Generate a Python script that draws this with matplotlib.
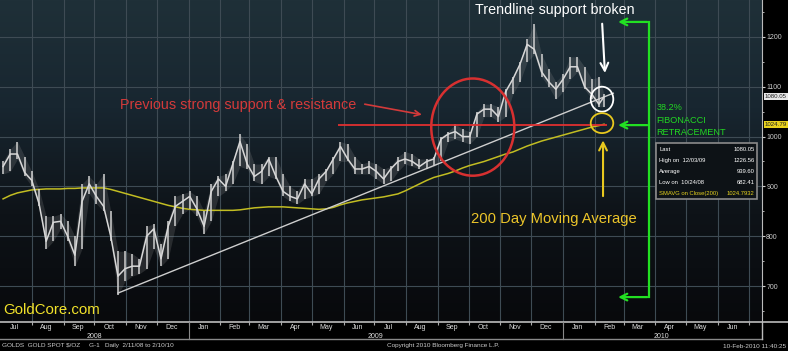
import matplotlib
matplotlib.use("Agg")
import matplotlib.pyplot as plt
import matplotlib.dates as mdates
from matplotlib.patches import Ellipse, Rectangle
from matplotlib.colors import LinearSegmentedColormap
import matplotlib.transforms as mtransforms
import numpy as np
import pandas as pd

plt.rcParams['font.family'] = ['Liberation Sans', 'DejaVu Sans']

# weekly gold spot bars (USD/oz), Fridays from 4 Jul 2008, last bar 10 Feb 2010
week_close = [940, 965, 965, 928, 912, 866, 790, 828, 830, 800, 762, 870, 905, 880, 860,
              800, 720, 735, 740, 740, 800, 815, 755, 820, 860, 870, 880, 855, 820, 890,
              915, 900, 945, 990, 945, 920, 930, 955, 920, 890, 880, 875, 905, 885, 915,
              930, 955, 980, 955, 935, 935, 940, 930, 915, 935, 950, 955, 950, 940, 950,
              955, 995, 1005, 1010, 1000, 1000, 1045, 1055, 1055, 1040, 1090, 1115, 1145, 1185,
              1175, 1130, 1110, 1095, 1115, 1140, 1140, 1100, 1085, 1065, 1080.05]
week_high = [950, 975, 990, 960, 930, 895, 840, 840, 845, 830, 800, 905, 920, 905, 925,
             850, 770, 770, 765, 755, 820, 825, 785, 830, 880, 885, 890, 880, 850, 905,
             920, 925, 950, 1005, 985, 945, 945, 960, 960, 925, 900, 890, 915, 915, 925,
             935, 960, 990, 985, 960, 945, 950, 945, 935, 940, 960, 970, 965, 955, 955,
             960, 1000, 1010, 1025, 1015, 1010, 1050, 1065, 1065, 1060, 1095, 1120, 1150, 1195,
             1226, 1165, 1135, 1110, 1125, 1160, 1160, 1140, 1115, 1120, 1085]
week_low = [925, 930, 955, 920, 900, 860, 775, 790, 815, 790, 740, 775, 885, 865, 850,
            790, 682, 710, 720, 725, 735, 775, 740, 755, 820, 845, 855, 840, 805, 830,
            880, 890, 905, 940, 935, 910, 905, 920, 915, 880, 870, 865, 875, 880, 885,
            910, 925, 950, 950, 925, 925, 925, 915, 905, 910, 930, 945, 940, 935, 935,
            940, 950, 990, 995, 990, 985, 1000, 1040, 1040, 1030, 1040, 1085, 1110, 1150,
            1165, 1120, 1100, 1075, 1090, 1115, 1130, 1095, 1075, 1060, 1060]
# 200 day simple moving average at the same dates
sma200 = [875, 882, 887, 890, 893, 894, 895, 895, 895, 896, 896, 897, 897, 897, 897,
          894, 890, 886, 882, 878, 874, 870, 866, 862, 859, 856, 854, 853, 852, 852,
          852, 852, 852, 853, 855, 857, 858, 859, 859, 859, 858, 857, 856, 855, 854,
          855, 858, 863, 867, 870, 873, 875, 877, 879, 882, 885, 891, 898, 905, 912,
          918, 922, 926, 931, 937, 942, 946, 950, 955, 960, 965, 969, 975, 981,
          986, 991, 995, 999, 1003, 1007, 1011, 1015, 1019, 1022, 1024.79]

dates = list(pd.date_range('2008-07-04', periods=84, freq='7D')) + [pd.Timestamp('2010-02-10')]
trend_dates = [pd.Timestamp('2008-10-24'), pd.Timestamp('2010-02-19')]
trend_vals = [686, 1087]
support_level = 1024
stats_labels = ['Last', 'High on  12/03/09', 'Average', 'Low on  10/24/08', 'SMAVG on Close(200)']
stats_values = ['1080.05', '1226.56', '939.60', '682.41', '1024.7932']
months = ['Jul', 'Aug', 'Sep', 'Oct', 'Nov', 'Dec', 'Jan', 'Feb', 'Mar', 'Apr', 'May', 'Jun']

fig = plt.figure(figsize=(7.88, 3.51), dpi=100, facecolor='black')
ax = fig.add_axes([0, 29 / 351, 762 / 788, 322 / 351])

d = mdates.date2num
x0, x1 = d(pd.Timestamp('2008-07-01')), d(pd.Timestamp('2010-07-14'))
ax.set_xlim(x0, x1)
ax.set_ylim(628, 1274)

# background gradient
cmap = LinearSegmentedColormap.from_list('bg', ['#08090c', '#0e1318', '#182630', '#1f3038'])
grad = np.linspace(0, 1, 256).reshape(-1, 1)
ax.imshow(grad, extent=[0, 1, 0, 1], transform=ax.transAxes, aspect='auto',
          cmap=cmap, origin='lower', zorder=0)

# grid
month_starts = pd.date_range('2008-08-01', '2010-07-01', freq='MS')
for m in month_starts:
    ax.axvline(d(m), color='#3e4b54', lw=0.8, zorder=1)
for lvl in [700, 800, 900, 1000, 1100, 1200]:
    ax.axhline(lvl, color='#3e4b54', lw=0.8, zorder=1)

# price bars
dn = d(pd.DatetimeIndex(dates))
ax.fill_between(dn, week_low, week_high, color='#9a9a9a', alpha=0.2, lw=0, zorder=3)
ax.vlines(dn, week_low, week_high, color='#d0d0d0', lw=1.1, zorder=4)
ax.plot(dn, week_close, color='#d8d8d8', lw=1.1, zorder=4)

# moving average and trendline
ax.plot(dn, sma200, color='#c2bd22', lw=1.1, zorder=3)
ax.plot(d(pd.DatetimeIndex(trend_dates)), trend_vals, color='#cfcfcf', lw=1.0, zorder=3)

# support line and annotations
ax.hlines(support_level, d(pd.Timestamp('2009-05-27')), d(pd.Timestamp('2010-02-13')),
          color='#e03030', lw=1.3, zorder=6)
ax.text(d(pd.Timestamp('2008-10-26')), 1063, 'Previous strong support & resistance',
        color='#d33a3a', fontsize=10.4, va='center', zorder=7)
ax.annotate('', xy=(d(pd.Timestamp('2009-08-19')), 1043), xytext=(d(pd.Timestamp('2009-06-19')), 1066),
            arrowprops=dict(arrowstyle='->', color='#d33a3a', lw=1.2), zorder=7)
ax.add_patch(Ellipse((d(pd.Timestamp('2009-10-05')), 1019), 81, 195, fill=False,
                     ec='#d83030', lw=1.8, zorder=7))

ax.text(d(pd.Timestamp('2009-10-07')), 1254, 'Trendline support broken', color='white',
        fontsize=10.3, va='center', zorder=7)
ax.annotate('', xy=(d(pd.Timestamp('2010-02-11')), 1122), xytext=(d(pd.Timestamp('2010-02-08')), 1232),
            arrowprops=dict(arrowstyle='->', color='white', lw=1.5, mutation_scale=14), zorder=7)
ax.add_patch(Ellipse((d(pd.Timestamp('2010-02-08')), 1075), 22, 50, fill=False,
                     ec='white', lw=1.3, zorder=7))
ax.add_patch(Ellipse((d(pd.Timestamp('2010-02-08')), 1027), 22, 40, fill=False,
                     ec='#e8c81e', lw=1.3, zorder=7))
ax.annotate('', xy=(d(pd.Timestamp('2010-02-09')), 998), xytext=(d(pd.Timestamp('2010-02-09')), 875),
            arrowprops=dict(arrowstyle='->', color='#e8c81e', lw=1.5, mutation_scale=14), zorder=7)
ax.text(d(pd.Timestamp('2009-10-03')), 835, '200 Day Moving Average', color='#ecc52a',
        fontsize=10.6, va='center', zorder=7)

# green bracket
gx = d(pd.Timestamp('2010-03-26'))
ax.plot([gx, gx], [1230, 678], color='#22e022', lw=1.6, zorder=7)
for lvl in [1230, 1023, 678]:
    ax.annotate('', xy=(d(pd.Timestamp('2010-02-21')), lvl), xytext=(gx + 0.8, lvl),
                arrowprops=dict(arrowstyle='->', color='#22e022', lw=1.6, mutation_scale=12), zorder=7)
for i, line in enumerate(['38.2%', 'FIBONACCI', 'RETRACEMENT']):
    ax.text(d(pd.Timestamp('2010-04-02')), 1058 - i * 25, line, color='#22d822',
            fontsize=6.6, va='center', zorder=7)

ax.text(d(pd.Timestamp('2008-07-04')), 652, 'GoldCore.com', color='#f2e22a',
        fontsize=10.8, va='center', zorder=7)

# stats box
ax.add_patch(Rectangle((0.861, 0.382), 0.132, 0.174, transform=ax.transAxes,
                       fc='#0d1216', ec='#8a8a8a', lw=1.2, zorder=8))
for i, (lab, val) in enumerate(zip(stats_labels, stats_values)):
    yy = 0.535 - i * 0.034
    c = '#e6d21e' if i == 4 else 'white'
    ax.text(0.865, yy, lab, transform=ax.transAxes, color=c, fontsize=4.2,
            va='center', zorder=9)
    ax.text(0.990, yy, val, transform=ax.transAxes, color=c, fontsize=4.2,
            va='center', ha='right', zorder=9)

# axes styling
for s in ['top', 'left', 'bottom']:
    ax.spines[s].set_visible(False)
ax.spines['right'].set_color('#bbbbbb')
ax.yaxis.tick_right()
ax.set_yticks([700, 800, 900, 1000, 1100, 1200])
ax.set_yticks(np.arange(650, 1275, 50), minor=True)
ax.tick_params(axis='y', which='both', colors='#cccccc', labelsize=5, length=2, pad=1)
ax.tick_params(axis='y', which='minor', length=1.5)
ax.set_xticks(d(month_starts))
ax.set_xticklabels([])
ax.tick_params(axis='x', which='major', length=2.5, colors='#aaaaaa', direction='out')
mids = pd.date_range('2008-07-01', '2010-06-01', freq='MS') + pd.Timedelta(days=14)
ax.set_xticks(d(mids), minor=True)
ax.set_xticklabels([months[i % 12] for i in range(len(mids))], minor=True)
ax.tick_params(axis='x', which='minor', length=0, labelsize=5, colors='#dddddd', pad=1.5)

# date band lines and year labels
trans = mtransforms.blended_transform_factory(ax.transData, fig.transFigure)
band_top, band_bot = 29 / 351, 12 / 351
fig.add_artist(plt.Line2D([0, 1], [band_top, band_top], color='#bbbbbb', lw=1.2))
fig.add_artist(plt.Line2D([0, 762 / 788], [band_bot, band_bot], color='#888888', lw=1.0))
fig.add_artist(plt.Line2D([762 / 788, 762 / 788], [band_bot, band_top], color='#bbbbbb', lw=1.0))
for yb in ['2009-01-01', '2010-01-01']:
    xb = d(pd.Timestamp(yb))
    fig.add_artist(plt.Line2D([xb, xb], [band_bot, band_top], color='#888888', lw=0.8, transform=trans))
for yr, xc in [('2008', '2008-10-01'), ('2009', '2009-07-02'), ('2010', '2010-04-07')]:
    fig.text(d(pd.Timestamp(xc)), 15 / 351, yr, transform=trans, color='#dddddd',
             fontsize=5, ha='center', va='center')

# price tags on the right axis
tagt = mtransforms.blended_transform_factory(fig.transFigure, ax.transData)
ax.text(765 / 788, 1080.05, '1080.05', transform=tagt, fontsize=4.4, color='#222222', va='center',
        bbox=dict(boxstyle='square,pad=0.15', fc='#e8e8e8', ec='none'), clip_on=False)
ax.text(765 / 788, 1024.79, '1024.79', transform=tagt, fontsize=4.4, color='#222222', va='center',
        bbox=dict(boxstyle='square,pad=0.15', fc='#e8d21e', ec='none'), clip_on=False)

# footer
fig.text(0.002, 5 / 351, 'GOLDS  GOLD SPOT $/OZ     G-1   Daily  2/11/08 to 2/10/10', color='#cccccc',
         fontsize=4.6, va='center')
fig.text(0.563, 5 / 351, 'Copyright 2010 Bloomberg Finance L.P.', color='#cccccc',
         fontsize=4.6, va='center', ha='center')
fig.text(0.998, 5 / 351, '10-Feb-2010 11:40:25', color='#cccccc', fontsize=4.6,
         va='center', ha='right')

fig.savefig('out.png', dpi=100, facecolor='black')
